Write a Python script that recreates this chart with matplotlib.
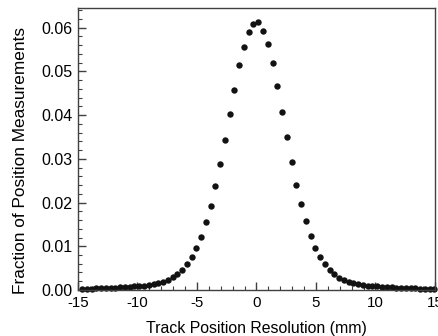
import matplotlib
matplotlib.use("Agg")
import matplotlib.pyplot as plt
from matplotlib.ticker import MultipleLocator, FormatStrFormatter

plt.rcParams['font.family'] = ['Liberation Sans', 'DejaVu Sans']
plt.rcParams['axes.unicode_minus'] = False

# bin centres (mm) and fraction of measurements
resolution_mm = [
    -14.65, -14.25, -13.85, -13.45, -13.05, -12.65, -12.25, -11.85, -11.45, -11.05,
    -10.65, -10.25, -9.85, -9.45, -9.05, -8.65, -8.25,
    -7.85, -7.45, -7.05, -6.65, -6.25, -5.85, -5.45, -5.05, -4.65, -4.25,
    -3.85, -3.45, -3.05, -2.65, -2.25, -1.85, -1.45, -1.05, -0.65, -0.25,
    0.15, 0.55, 0.95, 1.35, 1.75, 2.15, 2.55, 2.95, 3.35, 3.75,
    4.15, 4.55, 4.95, 5.35, 5.75, 6.15, 6.55, 6.95, 7.35, 7.75,
    8.15, 8.55, 8.95, 9.35, 9.75, 10.15, 10.55, 10.95, 11.35, 11.75,
    12.15, 12.55, 12.95, 13.35, 13.75, 14.15, 14.55, 14.95,
]
fraction = [
    0.0003, 0.0003, 0.0003, 0.0004, 0.0004, 0.0004, 0.0005, 0.0005, 0.0006, 0.0006,
    0.0007, 0.0008, 0.0009, 0.0010, 0.0011, 0.0013, 0.0015,
    0.0018, 0.0023, 0.0029, 0.0036, 0.0046, 0.0059, 0.0075, 0.0096, 0.0122, 0.0155,
    0.0192, 0.0237, 0.0289, 0.0343, 0.0402, 0.0457, 0.0514, 0.0557, 0.0590, 0.0608,
    0.0612, 0.0593, 0.0563, 0.0519, 0.0466, 0.0407, 0.0349, 0.0293, 0.0240, 0.0196,
    0.0157, 0.0124, 0.0097, 0.0076, 0.0059, 0.0046, 0.0036, 0.0028, 0.0022, 0.0018,
    0.0015, 0.0013, 0.0011, 0.0010, 0.0009, 0.0008, 0.0007, 0.0006, 0.0006, 0.0005,
    0.0005, 0.0004, 0.0004, 0.0004, 0.0003, 0.0003, 0.0003, 0.0003,
]

fig = plt.figure(figsize=(4.38, 3.36), dpi=100)
ax = fig.add_axes([0.178, 0.137, 0.815, 0.839])

ax.plot(resolution_mm, fraction, 'o', color='#121212', markersize=4.6,
        markeredgewidth=0, clip_on=False)

ax.set_xlim(-15, 15)
ax.set_ylim(0, 0.0645)
ax.xaxis.set_major_locator(MultipleLocator(5))
ax.xaxis.set_minor_locator(MultipleLocator(1))
ax.yaxis.set_major_locator(MultipleLocator(0.01))
ax.yaxis.set_minor_locator(MultipleLocator(0.002))
ax.yaxis.set_major_formatter(FormatStrFormatter('%.2f'))

ax.tick_params(which='both', direction='in', top=False, right=False,
               color='#404040', pad=4)
ax.tick_params(axis='x', labelsize=10.8)
ax.tick_params(axis='y', labelsize=11.5)
ax.tick_params(which='major', length=6, width=1)
ax.tick_params(which='minor', length=3, width=0.8)
for s in ax.spines.values():
    s.set_color('#404040')
    s.set_linewidth(1)

ax.set_xlabel("Track Position Resolution (mm)", fontsize=11.4, labelpad=8)
ax.set_ylabel("Fraction of Position Measurements", fontsize=12.4)
ax.yaxis.set_label_coords(-0.14, 0.459)

fig.savefig("out.png", dpi=100)
